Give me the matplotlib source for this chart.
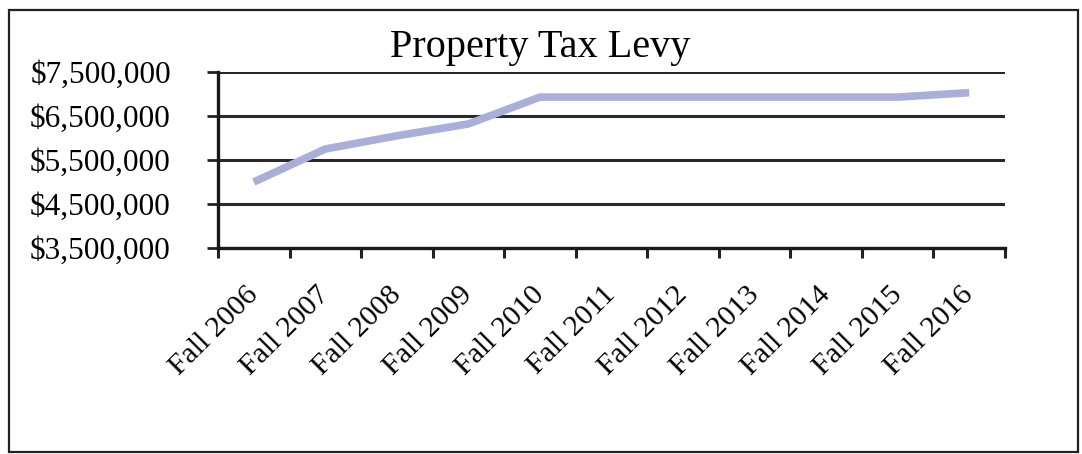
import matplotlib.pyplot as plt
import matplotlib.transforms as mtransforms
from matplotlib.patches import Rectangle
from matplotlib.ticker import FixedLocator, FuncFormatter

years = ["Fall 2006", "Fall 2007", "Fall 2008", "Fall 2009", "Fall 2010", "Fall 2011",
         "Fall 2012", "Fall 2013", "Fall 2014", "Fall 2015", "Fall 2016"]
levy = [5000000, 5750000, 6050000, 6320000, 6930000, 6930000,
        6930000, 6930000, 6930000, 6930000, 7030000]
y_ticks = [3500000, 4500000, 5500000, 6500000, 7500000]

plt.rcParams["font.family"] = ["Liberation Serif", "DejaVu Serif"]

fig = plt.figure(figsize=(10.82, 4.54), dpi=100)
ax = fig.add_axes([218 / 1082, 1 - 248 / 454, (1005 - 218) / 1082, (248 - 72) / 454])

# frame around the whole chart
fig.patches.append(Rectangle((9 / 1082, 1 - 452 / 454), (1078 - 9) / 1082, (452 - 10) / 454,
                             transform=fig.transFigure, fill=False, edgecolor="#222222",
                             linewidth=1.6))

x = list(range(len(years)))
ax.plot(x, levy, color="#a9afd8", linewidth=5.5, solid_capstyle="butt", zorder=3)

ax.set_xlim(-0.5, len(years) - 0.5)
ax.set_ylim(y_ticks[0], y_ticks[-1])

ax.set_yticks(y_ticks)
ax.yaxis.set_major_formatter(FuncFormatter(lambda v, p: "${:,.0f}".format(v)))
ax.tick_params(axis="y", length=8, width=2, color="#222222", labelsize=22.5, pad=26)
ax.grid(axis="y", color="#2a2a2a", linewidth=2.2)

ax.xaxis.set_major_locator(FixedLocator([i - 0.5 for i in range(len(years) + 1)]))
ax.xaxis.set_major_formatter(FuncFormatter(lambda v, p: ""))
ax.xaxis.set_minor_locator(FixedLocator(x))
ax.set_xticklabels(years, minor=True)
ax.tick_params(axis="x", which="major", length=7, width=2.2, color="#222222")
ax.tick_params(axis="x", which="minor", length=0, pad=24)
shift = mtransforms.ScaledTranslation(-9 / 100, 0, fig.dpi_scale_trans)
for lbl in ax.get_xticklabels(minor=True):
    lbl.set_rotation(45)
    lbl.set_ha("right")
    lbl.set_va("top")
    lbl.set_rotation_mode("anchor")
    lbl.set_fontsize(21.5)
    lbl.set_transform(lbl.get_transform() + shift)

for s in ["right", "top"]:
    ax.spines[s].set_visible(False)
for s in ["left", "bottom"]:
    ax.spines[s].set_linewidth(2.4)
    ax.spines[s].set_color("#1a1a1a")
ax.set_axisbelow(True)

fig.text(540 / 1082, 1 - 48 / 454, "Property Tax Levy", ha="center", va="center", fontsize=29)

fig.savefig("out.png", dpi=100)
